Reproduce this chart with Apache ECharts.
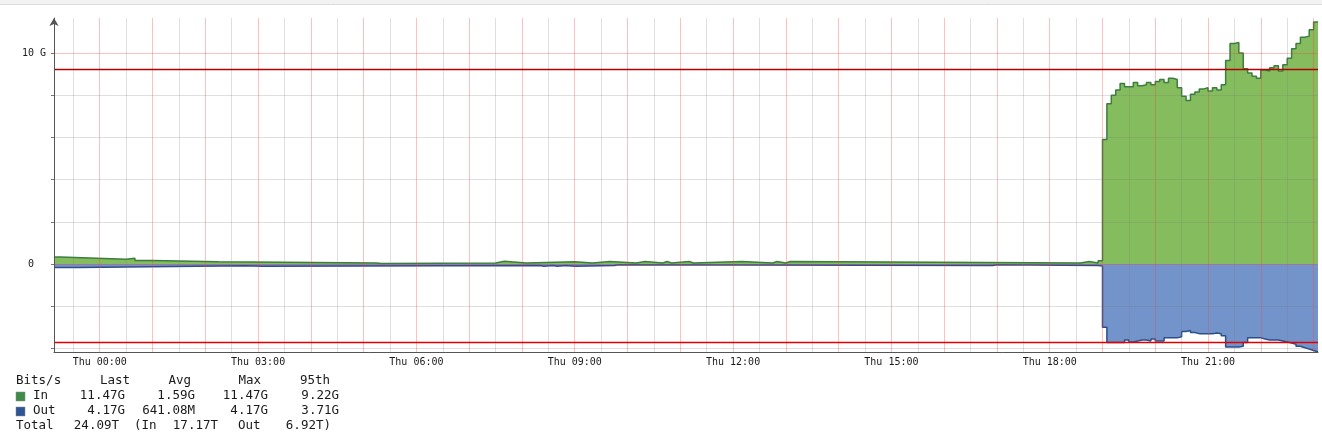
<!DOCTYPE html>
<html><head><meta charset="utf-8">
<script src="https://cdn.jsdelivr.net/npm/echarts@6/dist/echarts.min.js"></script>
<style>html,body{margin:0;padding:0;background:#fff}#c{width:1322px;height:436px}</style>
</head><body><div id="c"></div>
<script>
// ---------- data ----------
const AXIS_START = 'Wed 23:08';
const AXIS_END = 'Thu 23:05';
const xTickLabels = ['Thu 00:00','Thu 03:00','Thu 06:00','Thu 09:00','Thu 12:00','Thu 15:00','Thu 18:00','Thu 21:00'];
const yTickValues = [0, 10];
const yTickLabels = ['0  ', '10 G'];

// In (G bits/s), change points before the jump (value holds until next time)
const inLeftTimes = ['Wed 23:08','Wed 23:15','Wed 23:40','Thu 00:30','Thu 00:40','Thu 01:00','Thu 02:15','Thu 05:15','Thu 05:20',
  'Thu 07:30','Thu 07:40','Thu 08:05','Thu 09:00','Thu 09:20','Thu 09:40','Thu 10:10','Thu 10:20','Thu 10:40','Thu 10:45',
  'Thu 10:50','Thu 11:10','Thu 11:15','Thu 12:10','Thu 12:45','Thu 12:50','Thu 13:00','Thu 13:05','Thu 18:35','Thu 18:45','Thu 18:55'];
const inLeftValues = [0.33,0.30,0.23,0.27,0.17,0.11,0.05,0.02,0.05,
  0.13,0.05,0.11,0.05,0.12,0.05,0.12,0.05,0.12,0.05,
  0.12,0.05,0.12,0.05,0.12,0.05,0.12,0.05,0.12,0.05,0.15];

// Out (G bits/s, drawn negative)
const outLeftTimes = ['Wed 23:08','Wed 23:35','Thu 02:45','Thu 03:05','Thu 08:20','Thu 08:25','Thu 08:35','Thu 08:40',
  'Thu 08:50','Thu 09:00','Thu 09:45','Thu 09:50','Thu 16:55','Thu 17:00','Thu 18:55'];
const outLeftValues = [-0.16,-0.08,-0.11,-0.07,-0.11,-0.07,-0.11,-0.07,
  -0.11,-0.07,-0.03,-0.07,-0.03,-0.07,-0.10];

// 5-minute samples after 19:00
const rightTimes = ['Thu 19:00','Thu 19:05','Thu 19:10','Thu 19:15','Thu 19:20','Thu 19:25','Thu 19:30','Thu 19:35','Thu 19:40','Thu 19:45','Thu 19:50','Thu 19:55',
  'Thu 20:00','Thu 20:05','Thu 20:10','Thu 20:15','Thu 20:20','Thu 20:25','Thu 20:30','Thu 20:35','Thu 20:40','Thu 20:45','Thu 20:50','Thu 20:55',
  'Thu 21:00','Thu 21:05','Thu 21:10','Thu 21:15','Thu 21:20','Thu 21:25','Thu 21:30','Thu 21:35','Thu 21:40','Thu 21:45','Thu 21:50','Thu 21:55',
  'Thu 22:00','Thu 22:05','Thu 22:10','Thu 22:15','Thu 22:20','Thu 22:25','Thu 22:30','Thu 22:35','Thu 22:40','Thu 22:45','Thu 22:50','Thu 22:55',
  'Thu 23:00'];
const inRightValues = [5.9,7.6,8.0,8.25,8.55,8.4,8.4,8.6,8.45,8.5,8.6,8.5,
  8.65,8.75,8.6,8.8,8.75,8.35,7.95,7.75,8.05,8.15,8.3,8.35,
  8.2,8.35,8.25,8.5,9.65,10.45,10.5,10.0,9.25,9.05,8.9,8.8,
  9.2,9.15,9.3,9.4,9.15,9.45,9.75,10.2,10.45,10.75,10.8,11.1,
  11.47];
const outRightValues = [-3.0,-3.72,-3.72,-3.72,-3.72,-3.6,-3.7,-3.65,-3.6,-3.6,-3.65,-3.55,
  -3.65,-3.65,-3.5,-3.5,-3.5,-3.45,-3.2,-3.15,-3.25,-3.3,-3.3,-3.3,
  -3.3,-3.27,-3.3,-3.4,-3.93,-3.93,-3.93,-3.9,-3.72,-3.5,-3.5,-3.5,
  -3.55,-3.6,-3.6,-3.6,-3.65,-3.7,-3.75,-3.8,-3.9,-3.97,-4.03,-4.1,
  -4.17];

const in95th = 9.22;
const out95th = -3.71;
const yMin = -4.17, yMax = 11.66;
const yGridValues = [-4, -2, 0, 2, 4, 6, 8, 10];
const yGridMajor  = [false, false, true, false, false, false, false, true];

const legendHeader = ['Bits/s','Last','Avg','Max','95th'];
const legendIn = ['In','11.47G','1.59G','11.47G','9.22G'];
const legendOut = ['Out','4.17G','641.08M','4.17G','3.71G'];
const legendTotal = ['Total','24.09T','(In','17.17T','Out','6.92T)'];

// ---------- helpers ----------
function toH(s){ const [d,t]=s.split(' '); const [hh,mm]=t.split(':').map(Number); return (d==='Wed'? hh-24 : hh) + mm/60; }
const xMin = toH(AXIS_START), xMax = toH(AXIS_END);
function build(tl, vl, tr, vr){
  const pts = tl.map((t,i)=>[toH(t), vl[i]]).concat(tr.map((t,i)=>[toH(t), vr[i]]));
  pts.push([xMax, vr[vr.length-1]]);
  return pts;
}
const inData = build(inLeftTimes, inLeftValues, rightTimes, inRightValues);
const outData = build(outLeftTimes, outLeftValues, rightTimes, outRightValues);
const xTickValues = xTickLabels.map(toH);

const MONO = '"DejaVu Sans Mono", monospace';
const MAJOR = 'rgba(255,60,60,0.32)';
const MINOR = 'rgba(120,120,120,0.24)';
// half-hour grid positions inside the axis range
const xGridValues = [], xGridColors = [];
for (let k = Math.ceil(xMin*2); k/2 < xMax; k++) { xGridValues.push(k/2); xGridColors.push(k % 2 === 0 ? MAJOR : MINOR); }
const yGridColors = yGridMajor.map(m => m ? MAJOR : MINOR);

function ruleSeries(name, lines, color, z){
  return {name, type:'line', data:[], z, silent:true, color,
    markLine:{silent:true, symbol:['none','none'], label:{show:false}, animation:false, emphasis:{disabled:true},
      lineStyle:{color, type:'solid', width:1.4}, data:lines}};
}

const LFONT = '12.5px ' + MONO;
function txt(x, y, s, align){
  return {type:'text', x, y, silent:true, style:{text:s, font:LFONT, fill:'#1a1a1a', align:align, textAlign:align, verticalAlign:'middle', textVerticalAlign:'middle'}};
}
const rows = [381, 396, 411, 426];
const colR = [130, 191, 261, 330];
const valR = [125, 195, 268, 339];
const graphics = [
  {type:'rect', shape:{x:0,y:0,width:1322,height:4}, style:{fill:'#f2f2f2'}, silent:true},
  {type:'line', shape:{x1:0,y1:4.5,x2:1322,y2:4.5}, style:{stroke:'#dcdcdc', lineWidth:1}, silent:true},
  txt(16, rows[0], legendHeader[0], 'left'),
  ...legendHeader.slice(1).map((s,i)=>txt(colR[i], rows[0], s, 'right')),
  {type:'rect', shape:{x:16,y:392,width:9,height:9}, style:{fill:'#3f8c49', stroke:'#8a8a8a', lineWidth:0.5}, silent:true},
  txt(33, rows[1], legendIn[0], 'left'),
  ...legendIn.slice(1).map((s,i)=>txt(valR[i], rows[1], s, 'right')),
  {type:'rect', shape:{x:16,y:407,width:9,height:9}, style:{fill:'#2d5596', stroke:'#8a8a8a', lineWidth:0.5}, silent:true},
  txt(33, rows[2], legendOut[0], 'left'),
  ...legendOut.slice(1).map((s,i)=>txt(valR[i], rows[2], s, 'right')),
  txt(16, rows[3], legendTotal[0], 'left'),
  txt(119, rows[3], legendTotal[1], 'right'),
  txt(134, rows[3], legendTotal[2], 'left'),
  txt(218, rows[3], legendTotal[3], 'right'),
  txt(238, rows[3], legendTotal[4], 'left'),
  txt(331, rows[3], legendTotal[5], 'right'),
];

const chart = echarts.init(document.getElementById('c'), null, {renderer:'canvas'});
chart.setOption({
  animation:false,
  backgroundColor:'#ffffff',
  grid:{left:54, right:4, top:18, bottom:84, containLabel:false},
  xAxis:[
    {type:'value', min:xMin, max:xMax, z:6,
      axisLine:{show:true, onZero:false, lineStyle:{color:'#555', width:1}},
      axisTick:{show:false},
      splitLine:{show:false},
      axisLabel:{customValues:xTickValues, margin:5, fontFamily:MONO, fontSize:10, color:'#1a1a1a',
        formatter:(v)=>{ const i = xTickValues.findIndex(t=>Math.abs(t-v)<1e-6); return i>=0 ? xTickLabels[i] : ''; }}
    },
    {type:'value', min:xMin, max:xMax, show:true, z:5,
      axisLine:{show:false}, axisLabel:{show:false},
      axisTick:{show:false, customValues:xGridValues},
      splitLine:{show:true, showMinLine:true, showMaxLine:true, lineStyle:{color:xGridColors, type:'solid', width:1}}}
  ],
  yAxis:[
    {type:'value', min:yMin, max:yMax, z:6,
      axisLine:{show:true, onZero:false, symbol:['none','arrow'], symbolSize:[7,8], lineStyle:{color:'#555', width:1}},
      axisTick:{show:true, customValues:yGridValues, length:3, lineStyle:{color:'#777'}},
      splitLine:{show:false},
      axisLabel:{customValues:yTickValues, margin:8, fontFamily:MONO, fontSize:10, color:'#1a1a1a',
        formatter:(v)=>{ const i = yTickValues.indexOf(Math.round(v)); return i>=0 ? yTickLabels[i] : ''; }}
    },
    {type:'value', min:yMin, max:yMax, show:true, z:5,
      axisLine:{show:false}, axisLabel:{show:false},
      axisTick:{show:false, customValues:yGridValues},
      splitLine:{show:true, showMinLine:true, showMaxLine:true, lineStyle:{color:yGridColors, type:'solid', width:1}}}
  ],
  graphic: graphics,
  series:[
    {name:'Out', type:'line', step:'end', data:outData, showSymbol:false, symbol:'none', z:2,
      lineStyle:{color:'#2c4f89', width:1.5}, areaStyle:{color:'#7394cb', opacity:1}},
    {name:'In', type:'line', step:'end', data:inData, showSymbol:false, symbol:'none', z:3,
      lineStyle:{color:'#3b7e3e', width:1.5}, areaStyle:{color:'#84bc5e', opacity:1}},
    ruleSeries('in95', [{yAxis:in95th}], '#b00000', 7),
    ruleSeries('out95', [{yAxis:out95th}], '#e00000', 7)
  ]
});
</script></body></html>
